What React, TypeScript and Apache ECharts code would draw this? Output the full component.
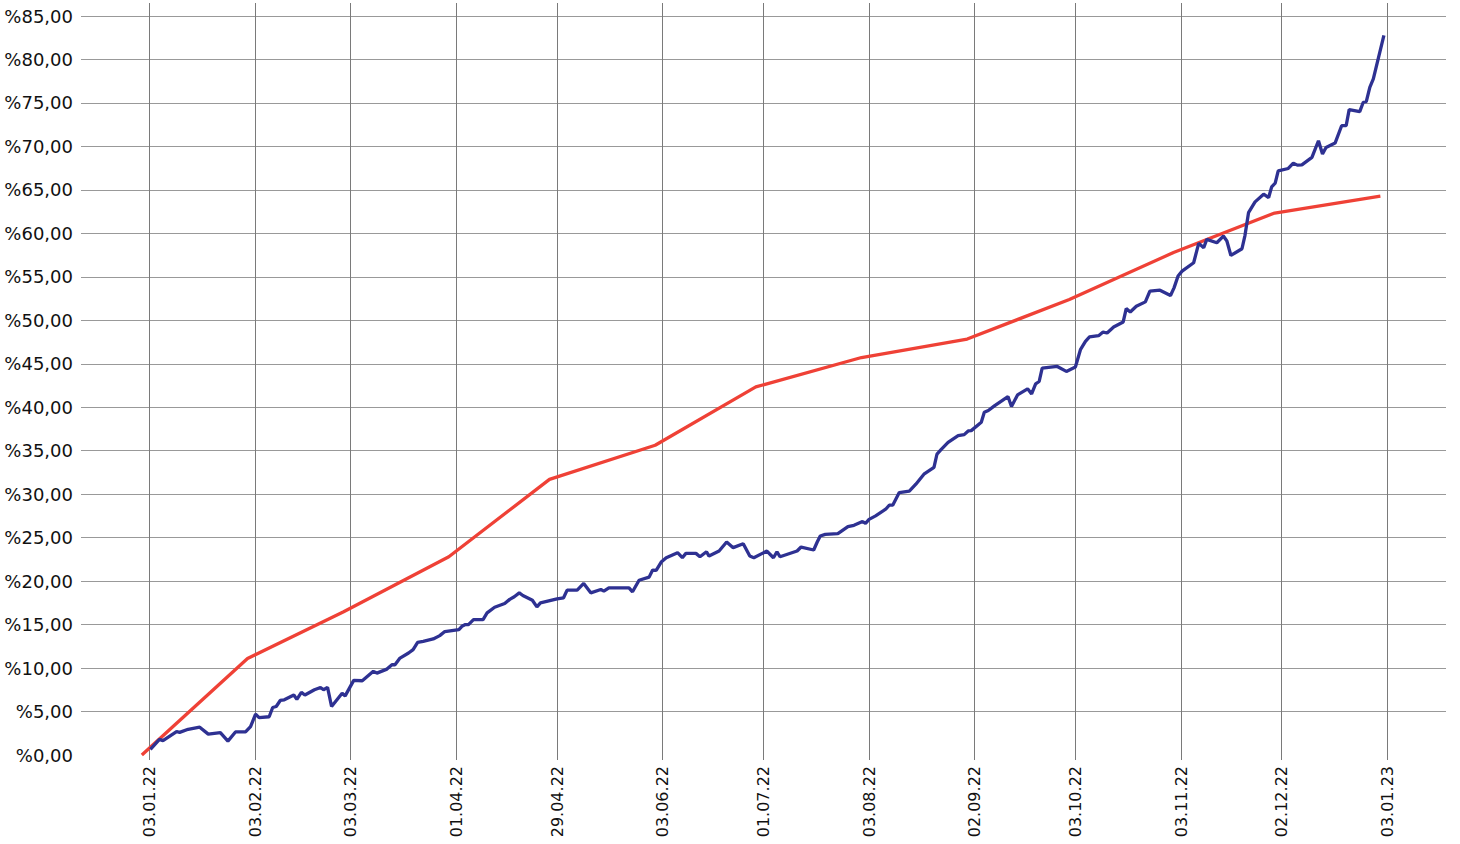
import React, { useEffect, useRef } from 'react';
import * as echarts from 'echarts';

// X axis: trading-day index; labelled days and their dates
const tickLabels = ['03.01.22', '03.02.22', '03.03.22', '01.04.22', '29.04.22', '03.06.22', '01.07.22', '03.08.22', '02.09.22', '03.10.22', '03.11.22', '02.12.22', '03.01.23'];
const tickDays = [0, 21, 40, 61, 81, 102, 122, 143, 164, 184, 205, 225, 246];

// Red series: cumulative monthly readings [day, %]
const cpiDays = [-1.5, 19.5, 38.5, 59.5, 79.5, 100.5, 120.5, 141.5, 162.5, 182.8, 203.5, 223.6, 244.6];
const cpiValues = [0, 11.1, 16.44, 22.8, 31.7, 35.63, 42.34, 45.72, 47.84, 52.4, 57.79, 62.34, 64.27];

// Blue series: cumulative daily change [day, %]
const blueJanMar = [[0.2, 0.65], [2, 1.8], [2.7, 1.65], [5.4, 2.7], [6, 2.6], [7.7, 2.96], [10, 3.2], [11.7, 2.4], [14.1, 2.58], [15.6, 1.6], [17.1, 2.65], [19.1, 2.65], [20.1, 3.27], [21.1, 4.7], [21.8, 4.3], [23.8, 4.4], [24.5, 5.46], [25.2, 5.58], [26, 6.27], [26.8, 6.35], [28.7, 6.9], [29.3, 6.4], [30.2, 7.2], [30.9, 6.9], [32.8, 7.5], [34, 7.77], [34.6, 7.5], [35.4, 7.77], [36.2, 5.58], [38.3, 7.1], [38.9, 6.8], [40.6, 8.58], [42.3, 8.54], [44.5, 9.62], [45.2, 9.42], [47.2, 9.88], [48.2, 10.38], [48.8, 10.38], [49.8, 11.15], [51.5, 11.73], [52.4, 12.12], [53.3, 12.96], [54.4, 13.08], [56.4, 13.35], [57.7, 13.73], [58.7, 14.2]];
const blueAprJun = [[61.5, 14.42], [62.1, 14.8], [62.8, 15.0], [63.4, 15.0], [64.4, 15.58], [66.3, 15.58], [67.1, 16.35], [68.6, 17.0], [70.6, 17.42], [71.6, 17.9], [72.5, 18.2], [73.5, 18.65], [74.2, 18.35], [76.1, 17.8], [77, 17.04], [77.7, 17.5], [81, 17.95], [82.3, 18.08], [83, 18.96], [85, 18.96], [86.3, 19.73], [87.7, 18.65], [89.7, 19.04], [90.3, 18.85], [91.3, 19.23], [95.3, 19.23], [96, 18.77], [97.3, 20.1], [99.3, 20.46], [100, 21.27], [100.7, 21.23], [101.7, 22.19], [102.7, 22.69], [104.95, 23.27], [105.9, 22.69], [106.6, 23.19], [108.6, 23.19], [109.4, 22.8], [110.7, 23.38], [111.2, 22.88], [113.2, 23.46], [114.7, 24.5], [116, 23.85], [118, 24.3], [119.3, 22.88], [120.1, 22.69]];
const blueJulSep = [[122.7, 23.46], [124, 22.69], [124.7, 23.38], [125.3, 22.8], [128.7, 23.46], [129.5, 23.92], [132, 23.58], [132.7, 24.5], [133.3, 25.19], [134.3, 25.38], [136.8, 25.46], [138.8, 26.27], [140, 26.42], [141.7, 26.85], [142.3, 26.65], [143, 27.1], [144.3, 27.5], [146.3, 28.27], [147, 28.73], [147.7, 28.73], [149, 30.19], [151, 30.35], [152.3, 31.15], [153.9, 32.3], [155.9, 33.08], [156.5, 34.62], [157.3, 35.12], [158.7, 35.96], [160.7, 36.73], [161.9, 36.85], [162.7, 37.27], [163.3, 37.31], [165.3, 38.27], [165.9, 39.42], [166.7, 39.62], [167.9, 40.15], [170.6, 41.23], [171.3, 40.08], [172.5, 41.42], [174.5, 42.12], [175.3, 41.54], [176.1, 42.69], [176.8, 42.96], [177.4, 44.5], [180.4, 44.69], [182.2, 44.12]];
const blueOctDec = [[184, 44.62], [185, 46.62], [186, 47.58], [186.8, 48.08], [188.6, 48.23], [189.5, 48.65], [190.3, 48.54], [191.6, 49.23], [193.5, 49.81], [194.1, 51.35], [194.9, 50.96], [196.1, 51.62], [197.9, 52.12], [198.8, 53.35], [200.8, 53.46], [202.9, 52.85], [203.6, 53.73], [204.4, 55.1], [205.2, 55.65], [207.5, 56.62], [208.5, 58.85], [209.5, 58.35], [210.1, 59.31], [212.1, 58.92], [213.4, 59.69], [214.1, 59.12], [214.9, 57.46], [217.1, 58.23], [217.7, 59.77], [218.4, 62.38], [219.7, 63.62], [221.4, 64.5], [222.4, 64.12], [223, 65.35], [223.7, 65.77], [224.3, 67.19], [226.3, 67.46], [227.3, 68.08], [228.1, 67.85], [229, 67.88], [231, 68.73], [232.3, 70.65], [233.1, 69.12], [233.8, 69.88], [235.6, 70.38], [236.9, 72.38], [237.8, 72.38], [238.4, 74.23], [240.5, 74], [241.2, 75.08], [241.8, 75.15], [242.5, 76.8], [243.2, 77.77], [245.3, 82.77]];

const yMin = 0;
const yMax = 85;
const yStep = 5;

const FONT = 'DejaVu Sans';

export default function App() {
  const ref = useRef<HTMLDivElement>(null);

  useEffect(() => {
    if (!ref.current) return;
    const chart = echarts.init(ref.current, null, { renderer: 'svg' });
    const lastDay = tickDays[tickDays.length - 1];
    const categories = Array.from({ length: lastDay + 1 }, (_, i) => {
      const k = tickDays.indexOf(i);
      return k >= 0 ? tickLabels[k] : '';
    });
    const isTick = (_i: number, v: string) => v !== '';
    const cpi = cpiDays.map((d, i) => [d, cpiValues[i]]);
    const blue = [...blueJanMar, ...blueAprJun, ...blueJulSep, ...blueOctDec];

    chart.setOption({
      animation: false,
      grid: [
        { left: 81, right: 14, top: 16, bottom: 89 },
        { left: 149.4, right: 72.6, top: 3, bottom: 84 },
      ],
      xAxis: [
        { gridIndex: 0, type: 'value', min: -13.59, max: 257.64, show: false },
        {
          gridIndex: 1,
          type: 'category',
          data: categories,
          boundaryGap: false,
          axisLine: { show: false },
          axisTick: { show: false },
          axisLabel: {
            interval: isTick,
            rotate: 90,
            margin: 6,
            fontFamily: FONT,
            fontSize: 16,
            color: '#111111',
          },
          splitLine: { show: true, interval: isTick, lineStyle: { color: '#7a7a7a', width: 1 } },
        },
      ],
      yAxis: [
        {
          gridIndex: 0,
          type: 'value',
          min: yMin,
          max: yMax,
          interval: yStep,
          axisLine: { show: false },
          axisTick: { show: false },
          axisLabel: {
            margin: 8,
            fontFamily: FONT,
            fontSize: 18,
            color: '#111111',
            formatter: (v: number) => '%' + v.toFixed(2).replace('.', ','),
          },
          splitLine: { show: true, showMinLine: false, lineStyle: { color: '#999999', width: 1 } },
        },
        { gridIndex: 1, type: 'value', min: 0, max: 1, show: false, splitLine: { show: false } },
      ],
      series: [
        {
          type: 'line',
          xAxisIndex: 0,
          yAxisIndex: 0,
          data: cpi,
          symbol: 'none',
          clip: false,
          lineStyle: { color: '#ef4136', width: 3.3 },
        },
        {
          type: 'line',
          xAxisIndex: 0,
          yAxisIndex: 0,
          data: blue,
          symbol: 'none',
          clip: false,
          lineStyle: { color: '#2e3192', width: 3.3 },
        },
      ],
    });
    return () => chart.dispose();
  }, []);

  return <div ref={ref} style={{ position: 'absolute', left: 0, top: 0, width: 1460, height: 844 }} />;
}
